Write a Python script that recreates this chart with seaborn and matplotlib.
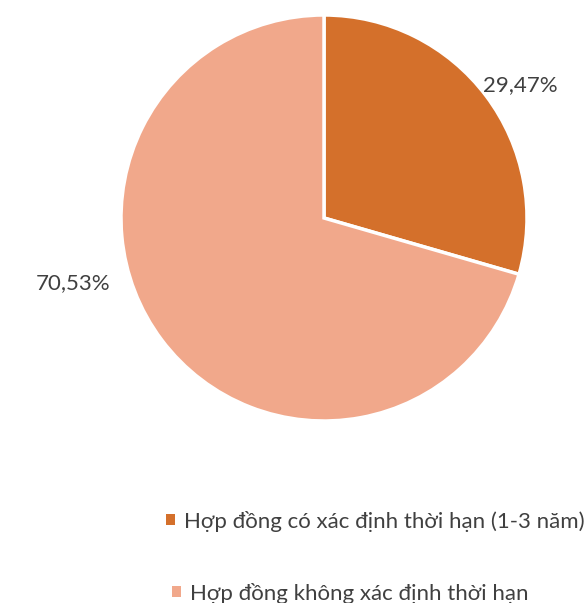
import matplotlib
matplotlib.use("Agg")
import matplotlib.pyplot as plt
import seaborn as sns

# Contract-type shares (%)
categories = ["Hợp đồng có xác định thời hạn (1-3 năm)", "Hợp đồng không xác định thời hạn"]
shares = [29.47, 70.53]
share_labels = ["29,47%", "70,53%"]
colors = ["#D4702B", "#F1A88B"]

sns.set_theme(style="white")
plt.rcParams["font.family"] = ["Lato", "DejaVu Sans"]

W, H = 585, 603
fig = plt.figure(figsize=(W / 100, H / 100), dpi=100)

cx, cy, r = 324, 218, 203
ax = fig.add_axes([(cx - r) / W, (H - cy - r) / H, 2 * r / W, 2 * r / H])

wedges, texts = ax.pie(
    shares,
    labels=share_labels,
    colors=colors,
    startangle=90,
    counterclock=False,
    wedgeprops=dict(edgecolor="white", linewidth=2.5),
    textprops=dict(color="#404040", fontsize=16),
)
ax.set_xlim(-1, 1)
ax.set_ylim(-1, 1)
ax.set_aspect("equal")

# label placement outside the slices
label_pos = [(0.966, 0.655), (-1.236, -0.320)]
for t, (x, y) in zip(texts, label_pos):
    t.set_position((x, y))
    t.set_ha("center")
    t.set_va("center")

# one legend entry per row, each anchored on its own
legend_anchors = [(166, 521), (172, 593)]
for wedge, name, (lx, ly) in zip(wedges, categories, legend_anchors):
    leg = fig.legend(
        [wedge],
        [name],
        loc="center left",
        bbox_to_anchor=(lx / W, 1 - ly / H),
        frameon=False,
        fontsize=16,
        labelcolor="#404040",
        handlelength=0.42,
        handleheight=0.42,
        handletextpad=0.4,
        borderpad=0,
        borderaxespad=0,
    )
    for h in leg.legend_handles:
        h.set_linewidth(0)

fig.savefig("out.png", dpi=100)
